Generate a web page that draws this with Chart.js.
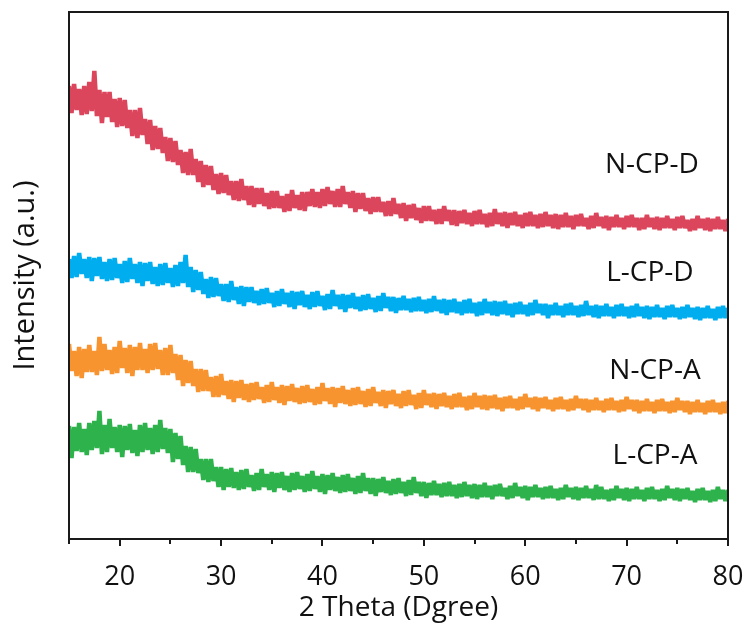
<!DOCTYPE html>
<html>
<head>
<meta charset="utf-8">
<script src="https://cdn.jsdelivr.net/npm/chart.js@4.4.0/dist/chart.umd.min.js"></script>
<style>
  html, body { margin: 0; padding: 0; background: #fff; }
  canvas { display: block; }
</style>
</head>
<body>
<canvas id="grafico" width="747" height="626"></canvas>
<script>
// 2 theta scan: from 15 to 80 degrees, one reading every 0.25 degree
var thetaStart = 15;
var thetaStep = 0.25;

// intensities (a.u.)
var nCPD = [
  453,426,455,429, 450,424,453,425, 457,428,468,423, 449,416,447,422, 447,417,440,412,
  441,413,439,411, 429,403,429,401, 431,404,420,395, 419,389,413,390, 411,386,402,378,
  401,377,398,374, 389,366,387,364, 390,364,380,357, 378,352,374,354, 373,349,365,345,
  366,346,364,344, 358,339,358,338, 360,339,353,334, 353,332,351,335, 351,333,346,330,
  348,331,348,331, 343,327,345,328, 349,331,344,329, 347,328,347,333, 350,332,347,331,
  350,333,352,335, 348,332,350,332, 353,335,347,331, 348,327,346,330, 346,328,341,325,
  342,327,342,327, 337,323,338,323, 341,325,335,321, 336,318,334,321, 335,319,331,316,
  333,318,333,318, 329,315,330,315, 333,318,329,314, 329,313,328,316, 329,315,326,313,
  328,315,329,315, 325,312,326,313, 330,315,326,313, 327,311,326,314, 327,313,324,311,
  326,313,327,313, 324,311,325,312, 327,313,324,311, 325,310,324,312, 326,312,323,310,
  324,313,325,313, 321,310,323,311, 326,313,322,311, 323,309,322,312, 324,312,321,310,
  323,312,324,312, 321,309,321,310, 324,312,321,310, 322,309,321,311, 323,311,320,309,
  322,311,323,311, 319,308,320,309, 323,311,320,309, 321,308,320,310, 322,310,319,308,
  320
];
var lCPD = [
  280,261,283,262, 286,265,280,261, 282,258,281,263, 282,260,277,258, 280,259,281,261,
  275,256,278,257, 281,260,275,256, 277,253,276,258, 277,255,272,253, 275,254,276,256,
  271,252,274,253, 277,256,284,252, 272,247,269,249, 267,245,260,241, 262,242,261,243,
  255,238,255,237, 258,239,252,235, 253,233,252,237, 252,236,248,234, 250,235,251,236,
  246,232,248,233, 250,235,246,232, 248,230,247,234, 248,232,244,230, 247,232,248,233,
  243,229,245,230, 249,233,244,230, 245,227,244,231, 246,230,242,228, 244,229,245,230,
  241,227,243,228, 246,231,242,228, 242,226,241,229, 243,229,240,227, 241,228,242,228,
  239,226,240,227, 243,228,239,226, 240,224,239,227, 240,226,237,224, 239,226,240,226,
  236,223,237,224, 240,226,237,224, 238,223,237,225, 238,224,235,222, 236,225,237,225,
  234,223,236,224, 239,226,235,224, 235,221,234,224, 236,224,233,222, 235,224,236,224,
  233,222,234,223, 238,224,233,222, 234,221,233,223, 235,223,232,221, 234,223,235,223,
  232,221,233,222, 235,223,232,221, 233,220,232,222, 234,222,231,220, 233,222,234,222,
  231,220,232,221, 234,222,231,220, 232,219,231,221, 233,221,230,219, 232,221,233,221,
  231
];
var nCPA = [
  195,168,188,163, 192,161,190,167, 194,167,188,164, 202,168,195,169, 189,165,192,166,
  198,171,191,166, 194,163,192,169, 196,169,190,166, 195,169,196,170, 189,164,191,164,
  194,166,185,159, 184,153,179,156, 178,153,170,147, 170,148,169,148, 162,142,163,142,
  165,144,158,140, 159,137,158,141, 159,139,155,137, 156,139,157,140, 152,136,154,137,
  157,139,152,136, 154,134,153,138, 155,137,151,135, 153,136,154,137, 150,134,152,135,
  156,138,151,135, 152,132,151,136, 153,135,149,133, 151,134,152,135, 148,132,150,133,
  152,136,147,133, 149,131,148,135, 149,133,145,131, 148,133,149,134, 144,130,146,131,
  149,134,145,132, 146,130,145,133, 146,132,143,130, 145,132,146,132, 142,129,143,130,
  146,132,143,130, 144,129,143,131, 144,130,141,128, 142,131,143,131, 140,129,142,130,
  145,132,141,130, 142,128,141,131, 142,130,139,128, 141,130,142,130, 139,128,140,129,
  143,131,140,129, 140,127,139,129, 141,129,138,127, 140,129,141,129, 138,127,139,128,
  142,130,139,128, 139,126,138,128, 140,128,137,126, 139,128,140,128, 137,126,138,127,
  141,129,138,127, 138,125,137,127, 139,127,136,125, 138,127,139,127, 136,125,137,126,
  138
];
var lCPA = [
  113,81,112,88, 116,87,110,84, 116,89,118,91, 128,85,114,87, 120,91,112,87,
  114,82,113,89, 115,86,109,83, 114,87,116,89, 111,85,114,87, 119,90,111,86,
  110,77,106,80, 103,74,93,67, 92,67,90,66, 80,59,80,57, 80,58,72,52,
  72,49,70,52, 71,51,67,49, 69,50,70,52, 64,48,66,49, 70,52,65,49,
  67,47,66,51, 67,49,63,47, 66,49,67,50, 63,47,65,48, 68,50,63,47,
  65,45,64,49, 66,48,62,46, 64,47,65,48, 61,45,63,46, 66,48,61,45,
  61,43,60,47, 62,46,58,44, 60,45,61,46, 57,43,59,44, 62,46,57,43,
  57,41,56,44, 58,44,55,42, 56,43,57,43, 54,41,55,42, 57,43,54,41,
  55,40,54,42, 56,42,53,40, 54,43,55,43, 51,40,53,41, 56,43,52,41,
  53,39,52,42, 54,42,51,40, 52,41,53,41, 50,39,51,40, 54,42,51,40,
  52,39,51,41, 53,41,50,39, 54,40,52,40, 49,38,50,39, 53,41,50,39,
  51,38,50,40, 52,40,49,38, 51,40,52,40, 49,38,50,39, 53,41,50,39,
  51,38,50,40, 51,39,48,37, 50,39,51,39, 48,37,49,38, 52,40,49,38,
  49
];

var sampleNames = ['N-CP-D', 'L-CP-D', 'N-CP-A', 'L-CP-A'];
var sampleColors = ['#DC465C', '#00ADEE', '#F7942F', '#2EB24C'];
var xTickLabels = [20, 30, 40, 50, 60, 70, 80];

// where each sample name sits (2 theta, intensity)
var namePlaces = [
  { x: 72.5, y: 374 },
  { x: 72.3, y: 266 },
  { x: 72.8, y: 168 },
  { x: 72.8, y: 83 }
];

function toPoints(values) {
  return values.map(function (v, i) {
    return { x: thetaStart + i * thetaStep, y: v };
  });
}

var allSeries = [nCPD, lCPD, nCPA, lCPA];
var datasets = allSeries.map(function (values, k) {
  return {
    label: sampleNames[k],
    data: toPoints(values),
    borderColor: sampleColors[k],
    borderWidth: 4.5,
    borderJoinStyle: 'bevel',
    pointRadius: 0,
    tension: 0,
    fill: false
  };
});

// frame, tick marks and sample names
var framePlugin = {
  id: 'frame',
  afterDatasetsDraw: function (chart) {
    var ctx = chart.ctx;
    var a = chart.chartArea;
    var xs = chart.scales.x;
    var ys = chart.scales.y;
    ctx.save();
    ctx.strokeStyle = '#1a1a1a';
    ctx.lineWidth = 2;
    ctx.strokeRect(a.left, a.top, a.right - a.left, a.bottom - a.top);
    xs.ticks.forEach(function (tk) {
      var px = Math.round(xs.getPixelForValue(tk.value));
      var len = xTickLabels.indexOf(tk.value) >= 0 ? 7 : 5;
      ctx.beginPath();
      ctx.moveTo(px, a.bottom);
      ctx.lineTo(px, a.bottom + len);
      ctx.stroke();
    });
    ctx.fillStyle = '#111';
    ctx.font = '28px "Open Sans"';
    ctx.textAlign = 'center';
    ctx.textBaseline = 'middle';
    namePlaces.forEach(function (p, k) {
      ctx.fillText(sampleNames[k], xs.getPixelForValue(p.x), ys.getPixelForValue(p.y));
    });
    ctx.restore();
  }
};

var ctx = document.querySelector('#grafico');
var chart = new Chart(ctx, {
  type: 'line',
  data: { datasets: datasets },
  options: {
    responsive: false,
    animation: false,
    events: [],
    layout: { padding: { top: 12, right: 19, left: 0, bottom: 0 } },
    plugins: { legend: { display: false }, tooltip: { enabled: false } },
    scales: {
      x: {
        type: 'linear',
        min: 15,
        max: 80,
        grid: { display: false },
        border: { display: false },
        ticks: {
          stepSize: 5,
          autoSkip: false,
          maxRotation: 0,
          padding: 14,
          color: '#111',
          font: { family: 'Open Sans', size: 27 },
          callback: function (v) { return xTickLabels.indexOf(v) >= 0 ? String(v) : ''; }
        },
        title: {
          display: true,
          text: '2 Theta (Dgree)',
          color: '#111',
          font: { family: 'Open Sans', size: 28 },
          padding: { top: 0, bottom: 1 }
        },
        afterFit: function (s) {
          s.height = 87;
          s.paddingLeft = 0;
          s.paddingRight = 0;
        }
      },
      y: {
        min: 0,
        max: 527,
        grid: { display: false },
        border: { display: false },
        ticks: { display: false },
        title: {
          display: true,
          text: 'Intensity (a.u.)',
          color: '#111',
          font: { family: 'Open Sans', size: 29 },
          padding: { top: 8, bottom: 0 }
        },
        afterFit: function (s) {
          s.width = 69;
          s.paddingTop = 0;
          s.paddingBottom = 0;
        }
      }
    }
  },
  plugins: [framePlugin]
});
</script>
</body>
</html>
